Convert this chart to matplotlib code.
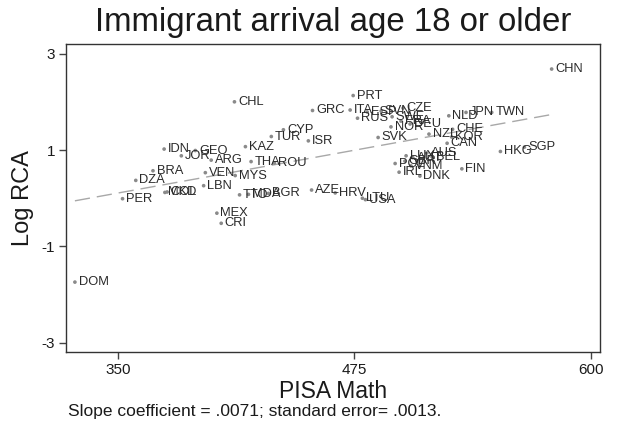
import numpy as np
import matplotlib.pyplot as plt

plt.rcParams['font.family'] = ['Liberation Sans', 'DejaVu Sans']
plt.rcParams['axes.unicode_minus'] = False

# Country codes, PISA math score and log RCA
countries = ['DOM', 'PER', 'DZA', 'BRA', 'IDN', 'MKD', 'COL', 'JOR', 'GEO', 'LBN',
             'VEN', 'ARG', 'MEX', 'CRI', 'CHL', 'MYS', 'TTO', 'KAZ', 'MDA', 'THA',
             'BGR', 'TUR', 'ROU', 'CYP', 'ISR', 'AZE', 'GRC', 'HRV', 'ITA', 'PRT',
             'RUS', 'LTU', 'USA', 'ESP', 'SVK', 'SVN', 'NOR', 'SWE', 'POL', 'IRL',
             'FRA', 'CZE', 'GBR', 'LUX', 'DEU', 'VNM', 'AUT', 'DNK', 'AUS', 'NZL',
             'BEL', 'CAN', 'NLD', 'KOR', 'CHE', 'FIN', 'JPN', 'TWN', 'HKG', 'SGP',
             'CHN']
pisa_math = [327.2, 352.4, 359.4, 368.5, 374.4, 374.8, 376.0, 383.5, 390.9, 395.3,
             396.2, 399.3, 402.3, 404.6, 411.6, 412.0, 414.3, 417.4, 419.0, 420.4,
             429.6, 431.1, 432.7, 437.5, 450.7, 452.4, 452.9, 464.9, 472.8, 474.4,
             476.7, 479.3, 480.9, 481.8, 487.6, 489.2, 494.4, 495.0, 496.6, 498.7,
             499.7, 500.8, 501.8, 502.4, 504.5, 505.0, 506.0, 509.7, 513.4, 514.5,
             516.1, 524.1, 525.0, 526.5, 527.0, 531.9, 534.1, 547.7, 552.3, 565.0,
             579.4]
log_rca = [-1.74, -0.01, 0.37, 0.57, 1.02, 0.12, 0.13, 0.88, 0.99, 0.26,
           0.53, 0.79, -0.31, -0.52, 2.00, 0.47, 0.07, 1.07, 0.08, 0.76,
           0.10, 1.28, 0.73, 1.42, 1.19, 0.17, 1.82, 0.11, 1.83, 2.13,
           1.66, 0.00, -0.03, 1.79, 1.26, 1.81, 1.48, 1.69, 0.72, 0.54,
           1.60, 1.87, 0.77, 0.88, 1.54, 0.67, 0.84, 0.46, 0.94, 1.33,
           0.86, 1.14, 1.71, 1.27, 1.43, 0.61, 1.78, 1.78, 0.97, 1.06,
           2.68]

# Fitted line: slope from the regression, intercept estimated
slope = 0.0071
intercept = -2.377

x_ticks = [350, 475, 600]
y_ticks = [-3, -1, 1, 3]

fig = plt.figure(figsize=(6.17, 4.29), dpi=100)
ax = fig.add_axes([0.107, 0.1795, 0.8655, 0.718])

ax.scatter(pisa_math, log_rca, s=7, color='#8a8a8a', edgecolors='none', zorder=3)
for name, xv, yv in zip(countries, pisa_math, log_rca):
    ax.annotate(name, (xv, yv), xytext=(2.6, 0), textcoords='offset points',
                ha='left', va='center', fontsize=9.3, color='#2a2a2a', zorder=4)

xs = np.array([min(pisa_math), max(pisa_math)])
ax.plot(xs, intercept + slope * xs, color='#a8a8a8', lw=1.0,
        dashes=(11, 5), zorder=2)

ax.set_xlim(322.5, 605)
ax.set_ylim(-3.19, 3.2)
ax.set_xticks(x_ticks)
ax.set_yticks(y_ticks)
ax.tick_params(direction='out', length=5, width=1, color='#444444',
               labelsize=11, labelcolor='#1a1a1a', pad=3)
for sp in ax.spines.values():
    sp.set_color('#333333')
    sp.set_linewidth(1.0)

ax.set_xlabel('PISA Math', fontsize=16.5, color='#1a1a1a', labelpad=2)
ax.set_ylabel('Log RCA', fontsize=17, color='#1a1a1a', labelpad=5)
fig.text(0.54, 0.947, 'Immigrant arrival age 18 or older', ha='center', va='center',
         fontsize=23.8, color='#1a1a1a')
fig.text(0.11, 0.04, 'Slope coefficient = .0071; standard error= .0013.',
         ha='left', va='center', fontsize=12.5, color='#1a1a1a')

plt.savefig('out.png', dpi=100)
